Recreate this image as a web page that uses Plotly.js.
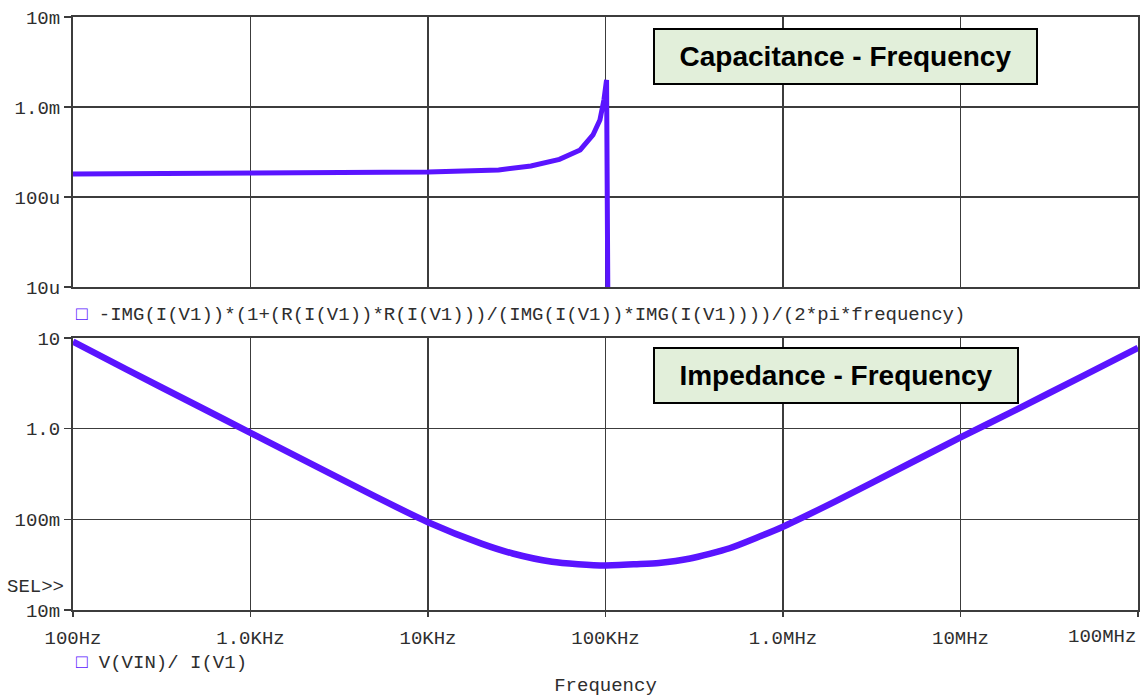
<!DOCTYPE html>
<html>
<head>
<meta charset="utf-8">
<script src="https://cdn.plot.ly/plotly-3.0.1.min.js"></script>
<style>
  html, body { margin: 0; padding: 0; background: #ffffff; }
  #chart { width: 1146px; height: 697px; }
</style>
</head>
<body>
<div id="chart"></div>
<script>
// ---- Data ----
// Top panel: effective capacitance vs frequency
const freqC = [100, 1e3, 5e3, 1e4, 2.5e4, 3.8e4, 5.5e4, 7.2e4, 8.5e4, 9.3e4, 9.8e4, 1.014e5, 1.03e5];
const capacitance = [180e-6, 182e-6, 185e-6, 189e-6, 200e-6, 221e-6, 262e-6, 333e-6, 489e-6, 718e-6, 1.2e-3, 2.0e-3, 1e-5];

// Bottom panel: impedance magnitude vs frequency
const freqZ = [100, 200, 500, 1e3, 2e3, 5e3, 1e4, 2e4, 3e4, 5e4, 7e4, 1e5, 1.5e5, 2e5, 3e5, 5e5, 1e6, 2e6, 5e6, 1e7, 2e7, 5e7, 1e8];
const impedance = [9.1, 4.5, 1.8, 0.9, 0.45, 0.18, 0.093, 0.054, 0.042, 0.034, 0.032, 0.031, 0.032, 0.033, 0.037, 0.048, 0.083, 0.16, 0.4, 0.8, 1.57, 3.9, 7.8];

// Tick labels
const freqTickVals = [1e2, 1e3, 1e4, 1e5, 1e6, 1e7, 1e8];
const freqTickText = ['100Hz', '1.0KHz', '10KHz', '100KHz', '1.0MHz', '10MHz', '100MHz'];
const capTickVals = [1e-5, 1e-4, 1e-3, 1e-2];
const capTickText = ['10u', '100u', '1.0m', '10m'];
const impTickVals = [1e-2, 1e-1, 1, 10];
const impTickText = ['10m', '100m', '1.0', '10'];

// Texts
const capLegend = '-IMG(I(V1))*(1+(R(I(V1))*R(I(V1)))/(IMG(I(V1))*IMG(I(V1))))/(2*pi*frequency)';
const impLegend = 'V(VIN)/ I(V1)';
const capTitle = 'Capacitance - Frequency';
const impTitle = 'Impedance - Frequency';

// ---- Styles ----
const traceColor = '#5a14ff';
const gridColor = '#3c3c3c';
const textColor = '#2e2e2e';
const monoFont = { family: '"Liberation Mono", "Courier New", monospace', size: 19, color: textColor };
const boxFont = { family: '"Liberation Sans", Arial, sans-serif', size: 28, color: '#000000', weight: 'bold' };

const traces = [
  {
    x: freqC, y: capacitance, xaxis: 'x', yaxis: 'y',
    type: 'scatter', mode: 'lines',
    line: { color: traceColor, width: 5 },
    hoverinfo: 'skip'
  },
  {
    x: freqZ, y: impedance, xaxis: 'x2', yaxis: 'y2',
    type: 'scatter', mode: 'lines', line: { color: traceColor, width: 6.5, shape: 'spline', smoothing: 0.6 },
    hoverinfo: 'skip'
  }
];

const commonAxis = {
  type: 'log',
  showgrid: true, gridcolor: gridColor, gridwidth: 1.5,
  showline: true, mirror: true, linecolor: gridColor, linewidth: 2,
  zeroline: false,
  tickfont: monoFont,
  tickcolor: gridColor, tickwidth: 1.5
};

const H = 697, T = 17, B = 87, L = 73, R = 8;
const plotH = H - T - B, plotW = 1146 - L - R;
const py = p => (H - B - p) / plotH;
const px = p => (p - L) / plotW;

// last frequency label sits flush with the right edge, as in the reference
const lastIdx = freqTickText.length - 1;
const shownFreqText = freqTickText.map((t, i) => (i === lastIdx ? '' : t));

const layout = {
  width: 1146, height: 697,
  margin: { l: L, r: R, t: T, b: B },
  paper_bgcolor: '#ffffff', plot_bgcolor: '#ffffff',
  showlegend: false,
  xaxis: Object.assign({}, commonAxis, {
    anchor: 'y', domain: [0, 1], range: [2, 8],
    tickvals: freqTickVals, showticklabels: false, ticks: ''
  }),
  yaxis: Object.assign({}, commonAxis, {
    anchor: 'x', domain: [py(287), 1], range: [-5, -2],
    tickvals: capTickVals, ticktext: capTickText, ticks: 'outside', ticklen: 7
  }),
  xaxis2: Object.assign({}, commonAxis, {
    anchor: 'y2', domain: [0, 1], range: [2, 8],
    tickvals: freqTickVals, ticktext: shownFreqText, ticks: 'outside', ticklen: 5,
    ticklabelstandoff: 4,
    title: { text: 'Frequency', font: monoFont, standoff: 42 }
  }),
  yaxis2: Object.assign({}, commonAxis, {
    anchor: 'x2', domain: [0, py(338)], range: [-2, 1],
    tickvals: impTickVals, ticktext: impTickText, ticks: 'outside', ticklen: 7
  }),
  annotations: [
    {
      xref: 'paper', yref: 'paper', x: px(845.5), y: py(56.5),
      xanchor: 'center', yanchor: 'middle', showarrow: false,
      text: capTitle, font: boxFont,
      bgcolor: '#e2efda', bordercolor: '#000000', borderwidth: 2, borderpad: 0,
      width: 381, height: 53
    },
    {
      xref: 'paper', yref: 'paper', x: px(836), y: py(375.5),
      xanchor: 'center', yanchor: 'middle', showarrow: false,
      text: impTitle, font: boxFont,
      bgcolor: '#e2efda', bordercolor: '#000000', borderwidth: 2, borderpad: 0,
      width: 362, height: 53
    },
    {
      xref: 'paper', yref: 'paper', x: px(74), y: py(315.5),
      xanchor: 'left', yanchor: 'middle', showarrow: false,
      text: '<span style="color:' + traceColor + '">□</span> ' + capLegend, font: monoFont
    },
    {
      xref: 'paper', yref: 'paper', x: px(74), y: py(663),
      xanchor: 'left', yanchor: 'middle', showarrow: false,
      text: '<span style="color:' + traceColor + '">□</span> ' + impLegend, font: monoFont
    },
    {
      xref: 'paper', yref: 'paper', x: px(66), y: py(587),
      xanchor: 'right', yanchor: 'middle', showarrow: false,
      text: 'SEL>>', font: monoFont
    },
    {
      xref: 'paper', yref: 'paper', x: 1, y: py(637),
      xanchor: 'right', yanchor: 'middle', showarrow: false,
      text: freqTickText[lastIdx], font: monoFont
    }
  ]
};

Plotly.newPlot('chart', traces, layout, { displayModeBar: false, staticPlot: true });
</script>
</body>
</html>
